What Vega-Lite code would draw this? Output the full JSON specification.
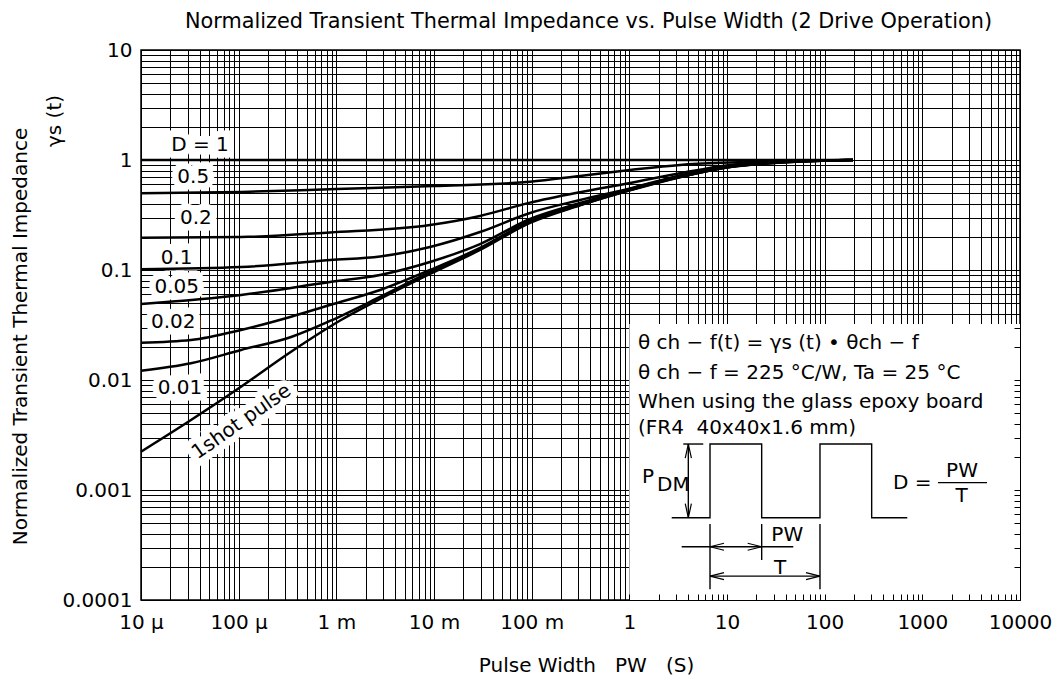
{
  "$schema": "https://vega.github.io/schema/vega-lite/v6.json",
  "width": 879,
  "height": 550,
  "autosize": "none",
  "padding": {"left": 141, "top": 50, "right": 34, "bottom": 77},
  "background": "white",
  "title": {
    "text": "Normalized Transient Thermal Impedance vs. Pulse Width (2 Drive Operation)",
    "font": "DejaVu Sans", "fontSize": 20.8, "fontWeight": "normal", "color": "#000",
    "anchor": "middle", "frame": "group", "offset": 7, "dx": 8
  },
  "config": {
    "view": {"stroke": "#000", "strokeWidth": 1.5}
  },
  "datasets": {
    "box": [{"t": 1, "t2": 10000, "r": 0.0001, "r2": 0.0323}],
    "curves": [
      {"D": "1", "t": 0.00001, "r": 1}, {"D": "1", "t": 195, "r": 1},
      {"D": "0.5", "t": 0.00001, "r": 0.498}, {"D": "0.5", "t": 0.0001057, "r": 0.512}, {"D": "0.5", "t": 0.001, "r": 0.545}, {"D": "0.5", "t": 0.01, "r": 0.58}, {"D": "0.5", "t": 0.0962, "r": 0.635}, {"D": "0.5", "t": 0.3126, "r": 0.716}, {"D": "0.5", "t": 1.016, "r": 0.811}, {"D": "0.5", "t": 3.3, "r": 0.902}, {"D": "0.5", "t": 10.7, "r": 0.949}, {"D": "0.5", "t": 34.7, "r": 0.979}, {"D": "0.5", "t": 112, "r": 0.993}, {"D": "0.5", "t": 195, "r": 1},
      {"D": "0.2", "t": 0.00001, "r": 0.1968}, {"D": "0.2", "t": 0.0001057, "r": 0.1995}, {"D": "0.2", "t": 0.00086, "r": 0.2193}, {"D": "0.2", "t": 0.0091, "r": 0.2564}, {"D": "0.2", "t": 0.0296, "r": 0.31}, {"D": "0.2", "t": 0.0962, "r": 0.41}, {"D": "0.2", "t": 0.3126, "r": 0.51}, {"D": "0.2", "t": 1.016, "r": 0.618}, {"D": "0.2", "t": 3.3, "r": 0.757}, {"D": "0.2", "t": 10.7, "r": 0.902}, {"D": "0.2", "t": 34.7, "r": 0.968}, {"D": "0.2", "t": 112, "r": 0.993}, {"D": "0.2", "t": 195, "r": 1},
      {"D": "0.1", "t": 0.00001, "r": 0.1014}, {"D": "0.1", "t": 0.0001057, "r": 0.1064}, {"D": "0.1", "t": 0.00086, "r": 0.1233}, {"D": "0.1", "t": 0.0028, "r": 0.1327}, {"D": "0.1", "t": 0.0091, "r": 0.1618}, {"D": "0.1", "t": 0.0296, "r": 0.2213}, {"D": "0.1", "t": 0.0962, "r": 0.33}, {"D": "0.1", "t": 0.3126, "r": 0.4325}, {"D": "0.1", "t": 1.016, "r": 0.551}, {"D": "0.1", "t": 3.3, "r": 0.723}, {"D": "0.1", "t": 10.7, "r": 0.881}, {"D": "0.1", "t": 34.7, "r": 0.959}, {"D": "0.1", "t": 112, "r": 0.989}, {"D": "0.1", "t": 195, "r": 1},
      {"D": "0.05", "t": 0.00001, "r": 0.0491}, {"D": "0.05", "t": 0.0001057, "r": 0.0593}, {"D": "0.05", "t": 0.00086, "r": 0.0778}, {"D": "0.05", "t": 0.0028, "r": 0.0902}, {"D": "0.05", "t": 0.0091, "r": 0.1183}, {"D": "0.05", "t": 0.0296, "r": 0.172}, {"D": "0.05", "t": 0.0962, "r": 0.291}, {"D": "0.05", "t": 0.3126, "r": 0.406}, {"D": "0.05", "t": 1.016, "r": 0.545}, {"D": "0.05", "t": 3.3, "r": 0.716}, {"D": "0.05", "t": 10.7, "r": 0.873}, {"D": "0.05", "t": 34.7, "r": 0.955}, {"D": "0.05", "t": 112, "r": 0.989}, {"D": "0.05", "t": 195, "r": 1},
      {"D": "0.02", "t": 0.00001, "r": 0.0218}, {"D": "0.02", "t": 0.0000325, "r": 0.0231}, {"D": "0.02", "t": 0.0001057, "r": 0.0285}, {"D": "0.02", "t": 0.000344, "r": 0.0376}, {"D": "0.02", "t": 0.00086, "r": 0.0481}, {"D": "0.02", "t": 0.0028, "r": 0.0658}, {"D": "0.02", "t": 0.0091, "r": 0.1}, {"D": "0.02", "t": 0.0296, "r": 0.1585}, {"D": "0.02", "t": 0.0962, "r": 0.279}, {"D": "0.02", "t": 0.3126, "r": 0.393}, {"D": "0.02", "t": 1.016, "r": 0.536}, {"D": "0.02", "t": 3.3, "r": 0.702}, {"D": "0.02", "t": 10.7, "r": 0.865}, {"D": "0.02", "t": 34.7, "r": 0.95}, {"D": "0.02", "t": 112, "r": 0.99}, {"D": "0.02", "t": 195, "r": 1},
      {"D": "0.01", "t": 0.00001, "r": 0.01216}, {"D": "0.01", "t": 0.0000325, "r": 0.01419}, {"D": "0.01", "t": 0.0001057, "r": 0.01875}, {"D": "0.01", "t": 0.000344, "r": 0.0246}, {"D": "0.01", "t": 0.00086, "r": 0.0344}, {"D": "0.01", "t": 0.0028, "r": 0.0569}, {"D": "0.01", "t": 0.0091, "r": 0.0959}, {"D": "0.01", "t": 0.0296, "r": 0.1552}, {"D": "0.01", "t": 0.0962, "r": 0.273}, {"D": "0.01", "t": 0.3126, "r": 0.39}, {"D": "0.01", "t": 1.016, "r": 0.533}, {"D": "0.01", "t": 3.3, "r": 0.7}, {"D": "0.01", "t": 10.7, "r": 0.863}, {"D": "0.01", "t": 34.7, "r": 0.949}, {"D": "0.01", "t": 112, "r": 0.99}, {"D": "0.01", "t": 195, "r": 1},
      {"D": "1shot", "t": 0.00001, "r": 0.00223}, {"D": "1shot", "t": 0.0000325, "r": 0.00433}, {"D": "1shot", "t": 0.0001057, "r": 0.00869}, {"D": "1shot", "t": 0.000344, "r": 0.01807}, {"D": "1shot", "t": 0.001117, "r": 0.0351}, {"D": "1shot", "t": 0.0028, "r": 0.0545}, {"D": "1shot", "t": 0.0091, "r": 0.092}, {"D": "1shot", "t": 0.0296, "r": 0.152}, {"D": "1shot", "t": 0.0962, "r": 0.268}, {"D": "1shot", "t": 0.3126, "r": 0.387}, {"D": "1shot", "t": 1.016, "r": 0.53}, {"D": "1shot", "t": 3.3, "r": 0.698}, {"D": "1shot", "t": 10.7, "r": 0.862}, {"D": "1shot", "t": 34.7, "r": 0.948}, {"D": "1shot", "t": 112, "r": 0.99}, {"D": "1shot", "t": 195, "r": 1}
    ],
    "labels": [
      {"t": 0.0000402, "r": 1.37, "txt": "D = 1"},
      {"t": 0.0000343, "r": 0.705, "txt": "0.5"},
      {"t": 0.0000365, "r": 0.295, "txt": "0.2"},
      {"t": 0.0000232, "r": 0.128, "txt": "0.1"},
      {"t": 0.0000232, "r": 0.0705, "txt": "0.05"},
      {"t": 0.0000214, "r": 0.0339, "txt": "0.02"},
      {"t": 0.0000251, "r": 0.0084, "txt": "0.01"},
      {"t": 0.000107, "r": 0.00418, "txt": "1shot pulse"}
    ],
    "notesL": [
      {"t": 1.226, "r": 0.0217, "txt": "θ ch − f(t) = γs (t) • θch − f"},
      {"t": 1.226, "r": 0.01158, "txt": "θ ch − f = 225 °C/W, Ta = 25 °C"},
      {"t": 1.226, "r": 0.00631, "txt": "When using the glass epoxy board"},
      {"t": 1.226, "r": 0.00366, "txt": "(FR4\u00a0\u00a040x40x1.6 mm)"},
      {"t": 1.348, "r": 0.00131, "txt": "P"},
      {"t": 1.919, "r": 0.00112, "txt": "DM"},
      {"t": 500, "r": 0.00116, "txt": "D ="}
    ],
    "notesC": [
      {"t": 2547, "r": 0.0015, "txt": "PW"},
      {"t": 2530, "r": 0.000888, "txt": "T"},
      {"t": 41.4, "r": 0.00039, "txt": "PW"},
      {"t": 34.9, "r": 0.000194, "txt": "T"}
    ],
    "diag": [
      {"g": "wave", "o": 1, "t": 2.716, "r": 0.00056}, {"g": "wave", "o": 2, "t": 6.699, "r": 0.00056}, {"g": "wave", "o": 3, "t": 6.699, "r": 0.002618}, {"g": "wave", "o": 4, "t": 22.65, "r": 0.002618}, {"g": "wave", "o": 5, "t": 22.65, "r": 0.00056}, {"g": "wave", "o": 6, "t": 89.54, "r": 0.00056}, {"g": "wave", "o": 7, "t": 89.54, "r": 0.002618}, {"g": "wave", "o": 8, "t": 302.9, "r": 0.002618}, {"g": "wave", "o": 9, "t": 302.9, "r": 0.00056}, {"g": "wave", "o": 10, "t": 701.5, "r": 0.00056},
      {"g": "ext", "o": 1, "t": 3.566, "r": 0.002618}, {"g": "ext", "o": 2, "t": 5.715, "r": 0.002618},
      {"g": "pdm", "o": 1, "t": 4.018, "r": 0.002618}, {"g": "pdm", "o": 2, "t": 4.018, "r": 0.00056},
      {"g": "v1", "o": 1, "t": 6.699, "r": 0.000491}, {"g": "v1", "o": 2, "t": 6.699, "r": 0.000125},
      {"g": "v2", "o": 1, "t": 22.65, "r": 0.000491}, {"g": "v2", "o": 2, "t": 22.65, "r": 0.000231},
      {"g": "v3", "o": 1, "t": 89.54, "r": 0.000491}, {"g": "v3", "o": 2, "t": 89.54, "r": 0.000125},
      {"g": "pw", "o": 1, "t": 3.436, "r": 0.000305}, {"g": "pw", "o": 2, "t": 47.74, "r": 0.000305},
      {"g": "tt", "o": 1, "t": 6.699, "r": 0.000165}, {"g": "tt", "o": 2, "t": 89.54, "r": 0.000165},
      {"g": "frac", "o": 1, "t": 1445, "r": 0.001166}, {"g": "frac", "o": 2, "t": 4592, "r": 0.001166}
    ],
    "arrows": [
      {"t": 4.018, "r": 0.002618, "dir": "up"},
      {"t": 4.018, "r": 0.00056, "dir": "down"},
      {"t": 6.699, "r": 0.000305, "dir": "left"},
      {"t": 22.65, "r": 0.000305, "dir": "right"},
      {"t": 6.699, "r": 0.000165, "dir": "left"},
      {"t": 89.54, "r": 0.000165, "dir": "right"}
    ],
    "ylab": [{"t": 0.000001318, "r": 2.262, "txt": "γs (t)"}]
  },
  "resolve": {"axis": {"x": "independent", "y": "independent"}},
  "layer": [
    {
      "data": {"name": "box"},
      "mark": {"type": "rect", "fill": "white", "strokeWidth": 0},
      "encoding": {
        "x": {"field": "t", "type": "quantitative", "scale": {"type": "log", "domain": [0.00001, 10000], "nice": false},
          "axis": {"orient": "bottom",
            "values": [0.00001,0.00002,0.00003,0.00004,0.00005,0.00006,0.00007,0.00008,0.00009,0.0001,0.0002,0.0003,0.0004,0.0005,0.0006,0.0007,0.0008,0.0009,0.001,0.002,0.003,0.004,0.005,0.006,0.007,0.008,0.009,0.01,0.02,0.03,0.04,0.05,0.06,0.07,0.08,0.09,0.1,0.2,0.3,0.4,0.5,0.6,0.7,0.8,0.9,1,2,3,4,5,6,7,8,9,10,20,30,40,50,60,70,80,90,100,200,300,400,500,600,700,800,900,1000,2000,3000,4000,5000,6000,7000,8000,9000,10000],
            "grid": false, "labels": false, "domain": false, "ticks": true, "tickSize": -6, "tickColor": "#000", "tickWidth": 1, "title": null, "zindex": 1}},
        "x2": {"field": "t2"},
        "y": {"field": "r", "type": "quantitative", "scale": {"type": "log", "domain": [0.0001, 10], "nice": false},
          "axis": {"orient": "right", "values": [0.0001,0.0002,0.0003,0.0004,0.0005,0.0006,0.0007,0.0008,0.0009,0.001,0.002,0.003,0.004,0.005,0.006,0.007,0.008,0.009,0.01,0.02,0.03,0.04,0.05,0.06,0.07,0.08,0.09,0.1,0.2,0.3,0.4,0.5,0.6,0.7,0.8,0.9,1,2,3,4,5,6,7,8,9,10],
            "grid": false, "labels": false, "domain": false, "ticks": true, "tickSize": -6, "tickColor": "#000", "tickWidth": 1, "title": null, "zindex": 1}},
        "y2": {"field": "r2"}
      }
    },
    {
      "data": {"name": "labels"},
      "transform": [{"filter": "datum.txt != '1shot pulse'"}],
      "mark": {"type": "text", "font": "DejaVu Sans", "fontSize": 20, "fill": "white", "stroke": "white", "strokeWidth": 13, "strokeJoin": "miter", "align": "center", "baseline": "middle"},
      "encoding": {
        "x": {"field": "t", "type": "quantitative", "scale": {"type": "log", "domain": [0.00001, 10000], "nice": false}, "axis": null},
        "y": {"field": "r", "type": "quantitative", "scale": {"type": "log", "domain": [0.0001, 10], "nice": false}, "axis": null},
        "text": {"field": "txt"}
      }
    },
    {
      "data": {"name": "labels"},
      "transform": [{"filter": "datum.txt == '1shot pulse'"}],
      "mark": {"type": "text", "font": "DejaVu Sans", "fontSize": 20, "fill": "white", "stroke": "white", "strokeWidth": 13, "strokeJoin": "miter", "align": "center", "baseline": "middle", "angle": -35},
      "encoding": {
        "x": {"field": "t", "type": "quantitative", "scale": {"type": "log", "domain": [0.00001, 10000], "nice": false}, "axis": null},
        "y": {"field": "r", "type": "quantitative", "scale": {"type": "log", "domain": [0.0001, 10], "nice": false}, "axis": null},
        "text": {"field": "txt"}
      }
    },
    {
      "data": {"name": "curves"},
      "mark": {"type": "line", "color": "#000", "strokeWidth": 2.5, "interpolate": "monotone"},
      "encoding": {
        "x": {"field": "t", "type": "quantitative", "scale": {"type": "log", "domain": [0.00001, 10000], "nice": false},
          "axis": {"orient": "bottom",
            "values": [0.00001,0.00002,0.00003,0.00004,0.00005,0.00006,0.00007,0.00008,0.00009,0.0001,0.0002,0.0003,0.0004,0.0005,0.0006,0.0007,0.0008,0.0009,0.001,0.002,0.003,0.004,0.005,0.006,0.007,0.008,0.009,0.01,0.02,0.03,0.04,0.05,0.06,0.07,0.08,0.09,0.1,0.2,0.3,0.4,0.5,0.6,0.7,0.8,0.9,1,2,3,4,5,6,7,8,9,10,20,30,40,50,60,70,80,90,100,200,300,400,500,600,700,800,900,1000,2000,3000,4000,5000,6000,7000,8000,9000,10000],
            "grid": true, "gridColor": "#000", "gridWidth": 1, "gridOpacity": 1,
            "domain": false, "ticks": false,
            "labelExpr": "datum.value == 0.00001 ? '10 μ' : datum.value == 0.0001 ? '100 μ' : datum.value == 0.001 ? '1 m' : datum.value == 0.01 ? '10 m' : datum.value == 0.1 ? '100 m' : datum.value == 1 ? '1' : datum.value == 10 ? '10' : datum.value == 100 ? '100' : datum.value == 1000 ? '1000' : datum.value == 10000 ? '10000' : ''",
            "labelFont": "DejaVu Sans", "labelFontSize": 20, "labelColor": "#000", "labelPadding": 12,
            "labelOverlap": false, "labelFlush": false, "labelBound": false,
            "title": "Pulse Width\u00a0\u00a0\u00a0PW\u00a0\u00a0\u00a0(S)", "titleFont": "DejaVu Sans", "titleFontSize": 20, "titleFontWeight": "normal", "titleColor": "#000",
            "titleY": 65, "titleX": 445, "titleBaseline": "middle"
          }},
        "y": {"field": "r", "type": "quantitative", "scale": {"type": "log", "domain": [0.0001, 10], "nice": false},
          "axis": {"orient": "left",
            "values": [0.0001,0.0002,0.0003,0.0004,0.0005,0.0006,0.0007,0.0008,0.0009,0.001,0.002,0.003,0.004,0.005,0.006,0.007,0.008,0.009,0.01,0.02,0.03,0.04,0.05,0.06,0.07,0.08,0.09,0.1,0.2,0.3,0.4,0.5,0.6,0.7,0.8,0.9,1,2,3,4,5,6,7,8,9,10],
            "grid": true, "gridColor": "#000", "gridWidth": 1, "gridOpacity": 1,
            "domain": false, "ticks": false,
            "labelExpr": "datum.value == 0.0001 ? '0.0001' : datum.value == 0.001 ? '0.001' : datum.value == 0.01 ? '0.01' : datum.value == 0.1 ? '0.1' : datum.value == 1 ? '1' : datum.value == 10 ? '10' : ''",
            "labelFont": "DejaVu Sans", "labelFontSize": 20, "labelColor": "#000", "labelPadding": 9,
            "labelOverlap": false, "labelFlush": false, "labelBound": false,
            "title": "Normalized Transient Thermal Impedance", "titleFont": "DejaVu Sans", "titleFontSize": 20, "titleFontWeight": "normal", "titleColor": "#000",
            "titleX": -121, "titleY": 286, "titleAngle": 270, "titleAlign": "center", "titleBaseline": "middle"
          }},
        "detail": {"field": "D", "type": "nominal"}
      }
    },
    {
      "data": {"name": "labels"},
      "transform": [{"filter": "datum.txt != '1shot pulse'"}],
      "mark": {"type": "text", "font": "DejaVu Sans", "fontSize": 20, "fill": "#000", "align": "center", "baseline": "middle"},
      "encoding": {
        "x": {"field": "t", "type": "quantitative", "scale": {"type": "log", "domain": [0.00001, 10000], "nice": false}, "axis": null},
        "y": {"field": "r", "type": "quantitative", "scale": {"type": "log", "domain": [0.0001, 10], "nice": false}, "axis": null},
        "text": {"field": "txt"}
      }
    },
    {
      "data": {"name": "labels"},
      "transform": [{"filter": "datum.txt == '1shot pulse'"}],
      "mark": {"type": "text", "font": "DejaVu Sans", "fontSize": 20, "fill": "#000", "align": "center", "baseline": "middle", "angle": -35},
      "encoding": {
        "x": {"field": "t", "type": "quantitative", "scale": {"type": "log", "domain": [0.00001, 10000], "nice": false}, "axis": null},
        "y": {"field": "r", "type": "quantitative", "scale": {"type": "log", "domain": [0.0001, 10], "nice": false}, "axis": null},
        "text": {"field": "txt"}
      }
    },
    {
      "data": {"name": "notesL"},
      "mark": {"type": "text", "font": "DejaVu Sans", "fontSize": 20, "fill": "#000", "align": "left", "baseline": "middle"},
      "encoding": {
        "x": {"field": "t", "type": "quantitative", "scale": {"type": "log", "domain": [0.00001, 10000], "nice": false}, "axis": null},
        "y": {"field": "r", "type": "quantitative", "scale": {"type": "log", "domain": [0.0001, 10], "nice": false}, "axis": null},
        "text": {"field": "txt"}
      }
    },
    {
      "data": {"name": "notesC"},
      "mark": {"type": "text", "font": "DejaVu Sans", "fontSize": 20, "fill": "#000", "align": "center", "baseline": "middle"},
      "encoding": {
        "x": {"field": "t", "type": "quantitative", "scale": {"type": "log", "domain": [0.00001, 10000], "nice": false}, "axis": null},
        "y": {"field": "r", "type": "quantitative", "scale": {"type": "log", "domain": [0.0001, 10], "nice": false}, "axis": null},
        "text": {"field": "txt"}
      }
    },
    {
      "data": {"name": "diag"},
      "mark": {"type": "line", "color": "#000", "strokeWidth": 1.4},
      "encoding": {
        "x": {"field": "t", "type": "quantitative", "scale": {"type": "log", "domain": [0.00001, 10000], "nice": false}, "axis": null},
        "y": {"field": "r", "type": "quantitative", "scale": {"type": "log", "domain": [0.0001, 10], "nice": false}, "axis": null},
        "detail": {"field": "g", "type": "nominal"},
        "order": {"field": "o", "type": "quantitative"}
      }
    },
    {
      "data": {"name": "arrows"},
      "mark": {"type": "point", "filled": false, "stroke": "#000", "strokeWidth": 1.2, "opacity": 1, "size": 784},
      "encoding": {
        "x": {"field": "t", "type": "quantitative", "scale": {"type": "log", "domain": [0.00001, 10000], "nice": false}, "axis": null},
        "y": {"field": "r", "type": "quantitative", "scale": {"type": "log", "domain": [0.0001, 10], "nice": false}, "axis": null},
        "shape": {"field": "dir", "type": "nominal", "legend": null,
          "scale": {"domain": ["right", "left", "up", "down"], "range": ["M0,0L-1,-0.25M0,0L-1,0.25", "M0,0L1,-0.25M0,0L1,0.25", "M0,0L-0.22,1M0,0L0.22,1", "M0,0L-0.22,-1M0,0L0.22,-1"]}}
      }
    },
    {
      "data": {"name": "ylab"},
      "mark": {"type": "text", "font": "DejaVu Sans", "fontSize": 20, "fill": "#000", "align": "center", "baseline": "middle", "angle": 270},
      "encoding": {
        "x": {"field": "t", "type": "quantitative", "scale": {"type": "log", "domain": [0.00001, 10000], "nice": false}, "axis": null},
        "y": {"field": "r", "type": "quantitative", "scale": {"type": "log", "domain": [0.0001, 10], "nice": false}, "axis": null},
        "text": {"field": "txt"}
      }
    }
  ]
}
